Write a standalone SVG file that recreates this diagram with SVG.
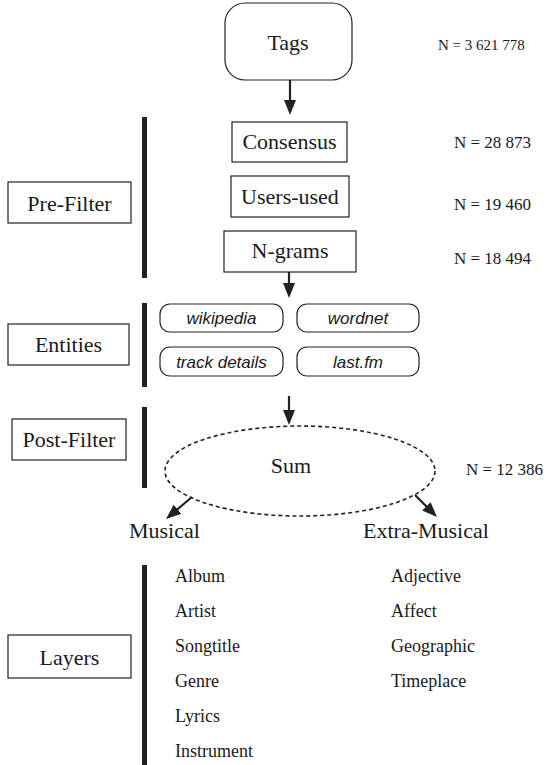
<svg xmlns="http://www.w3.org/2000/svg" width="548" height="765" viewBox="0 0 548 765">
  <style>
    .box { fill: #fff; stroke: #222; stroke-width: 1.2; }
    .bar { fill: #222; }
    .lbl { font-family: "Liberation Serif", "Times New Roman", serif; font-size: 22px; fill: #1a1a1a; }
    .cnt { font-family: "Liberation Serif", "Times New Roman", serif; font-size: 17px; fill: #1a1a1a; }
    .item { font-family: "Liberation Serif", "Times New Roman", serif; font-size: 18px; fill: #1a1a1a; }
    .src { font-family: "Liberation Sans", Arial, sans-serif; font-size: 17px; font-style: italic; fill: #1a1a1a; }
    .pill { fill: #fff; stroke: #222; stroke-width: 1.2; }
    .link { stroke: #222; stroke-width: 2.2; fill: none; }
  </style>
  <defs>
    <marker id="head" viewBox="0 0 15 12" refX="3" refY="6" markerWidth="15" markerHeight="12" markerUnits="userSpaceOnUse" orient="auto">
      <path d="M0,0 L15,6 L0,12 z" fill="#222"/>
    </marker>
  </defs>

  <rect width="548" height="765" fill="#fff"/>

  <!-- section bars -->
  <g id="bars">
    <rect class="bar" x="142" y="117" width="5" height="161"/>
    <rect class="bar" x="142" y="303" width="5" height="84"/>
    <rect class="bar" x="142" y="407" width="5" height="81"/>
    <rect class="bar" x="142" y="565" width="5" height="200"/>
  </g>

  <!-- stage labels -->
  <g id="prefilter">
    <rect class="box" x="8" y="182" width="123" height="41"/>
    <text class="lbl" x="69.5" y="211" text-anchor="middle">Pre-Filter</text>
  </g>
  <g id="entities">
    <rect class="box" x="8" y="324" width="121" height="41"/>
    <text class="lbl" x="68.5" y="352" text-anchor="middle">Entities</text>
  </g>
  <g id="postfilter">
    <rect class="box" x="12" y="419" width="114" height="41"/>
    <text class="lbl" x="69" y="447" text-anchor="middle">Post-Filter</text>
  </g>
  <g id="layers">
    <rect class="box" x="8" y="635" width="123" height="43"/>
    <text class="lbl" x="69.5" y="665" text-anchor="middle">Layers</text>
  </g>

  <!-- pipeline -->
  <g id="tags">
    <rect class="box" x="225" y="3" width="127" height="77" rx="20"/>
    <text class="lbl" x="288" y="50" text-anchor="middle">Tags</text>
  </g>
  <g id="consensus">
    <rect class="box" x="232" y="122" width="115" height="40"/>
    <text class="lbl" x="289.5" y="149" text-anchor="middle">Consensus</text>
  </g>
  <g id="users-used">
    <rect class="box" x="231" y="176" width="118" height="41"/>
    <text class="lbl" x="290" y="204" text-anchor="middle">Users-used</text>
  </g>
  <g id="ngrams">
    <rect class="box" x="224" y="231" width="132" height="41"/>
    <text class="lbl" x="290" y="258" text-anchor="middle">N-grams</text>
  </g>

  <!-- entity sources -->
  <g id="wikipedia">
    <rect class="pill" x="160" y="304" width="123" height="28" rx="10"/>
    <text class="src" x="221.5" y="324" text-anchor="middle">wikipedia</text>
  </g>
  <g id="wordnet">
    <rect class="pill" x="297" y="304" width="122" height="28" rx="10"/>
    <text class="src" x="358" y="324" text-anchor="middle">wordnet</text>
  </g>
  <g id="track-details">
    <rect class="pill" x="160" y="347" width="123" height="29" rx="10"/>
    <text class="src" x="221.5" y="368" text-anchor="middle">track details</text>
  </g>
  <g id="lastfm">
    <rect class="pill" x="297" y="347" width="122" height="29" rx="10"/>
    <text class="src" x="358" y="368" text-anchor="middle">last.fm</text>
  </g>

  <g id="sum">
    <ellipse cx="300" cy="471" rx="135" ry="45" fill="none" stroke="#222" stroke-width="1.6" stroke-dasharray="4 3"/>
    <text class="lbl" x="291" y="473" text-anchor="middle">Sum</text>
  </g>

  <!-- counts -->
  <g id="counts">
    <text class="cnt" x="438" y="50" style="font-size:15px">N = 3 621 778</text>
    <text class="cnt" x="454" y="148">N = 28 873</text>
    <text class="cnt" x="454" y="210">N = 19 460</text>
    <text class="cnt" x="454" y="264">N = 18 494</text>
    <text class="cnt" x="466" y="475">N = 12 386</text>
  </g>

  <!-- categories -->
  <g id="musical">
    <text class="lbl" x="129" y="538">Musical</text>
    <text class="item" x="175" y="582">Album</text>
    <text class="item" x="175" y="617">Artist</text>
    <text class="item" x="175" y="652">Songtitle</text>
    <text class="item" x="175" y="687">Genre</text>
    <text class="item" x="175" y="722">Lyrics</text>
    <text class="item" x="175" y="757">Instrument</text>
  </g>
  <g id="extra-musical">
    <text class="lbl" x="363" y="538">Extra-Musical</text>
    <text class="item" x="391" y="582">Adjective</text>
    <text class="item" x="391" y="617">Affect</text>
    <text class="item" x="391" y="652">Geographic</text>
    <text class="item" x="391" y="687">Timeplace</text>
  </g>

  <!-- connectors -->
  <g id="connectors">
    <line class="link" x1="290" y1="80" x2="290" y2="103" marker-end="url(#head)"/>
    <line class="link" x1="289" y1="272" x2="289" y2="286" marker-end="url(#head)"/>
    <line class="link" x1="289" y1="396" x2="289" y2="413" marker-end="url(#head)"/>
    <line class="link" x1="192" y1="497" x2="175.2" y2="511.2" marker-end="url(#head)"/>
    <line class="link" x1="415" y1="495" x2="428.5" y2="508.5" marker-end="url(#head)"/>
  </g>
</svg>
